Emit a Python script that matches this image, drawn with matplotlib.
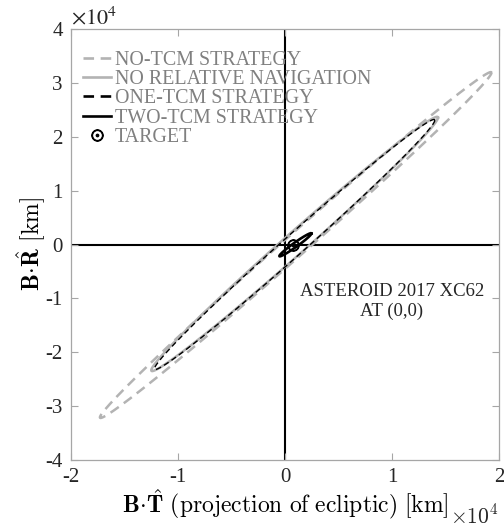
import numpy as np
import matplotlib
matplotlib.use('Agg')
import matplotlib.pyplot as plt
from matplotlib.ticker import FuncFormatter, MultipleLocator

plt.rcParams['font.family'] = 'serif'
plt.rcParams['font.serif'] = ['Liberation Serif', 'DejaVu Serif']
plt.rcParams['mathtext.fontset'] = 'cm'
plt.rcParams['axes.unicode_minus'] = False

# B-plane dispersion ellipses (km)
strategies = ['NO-TCM STRATEGY', 'NO RELATIVE NAVIGATION',
              'ONE-TCM STRATEGY', 'TWO-TCM STRATEGY']
center_t = [1000, 900, 900, 970]
center_r = [-100, 100, 0, -50]
sigma_t = [18300, 13400, 13100, 1500]
sigma_r = [32100, 23600, 23200, 2150]
corr = [0.9965, 0.9935, 0.9937, 0.973]
target_t = [750]
target_r = [0]

colors = ['#b3b3b3', '#b3b3b3', 'black', 'black']
styles = ['--', '-', '--', '-']
widths = [1.8, 1.8, 1.0, 1.9]

fig = plt.figure(figsize=(5.04, 5.31), dpi=100)
ax = fig.add_axes([71/504, 1 - 460/531, 428/504, 431/531])

# axis cross lines
ax.axhline(0, color='black', lw=1.5, zorder=1)
ax.axvline(0, color='black', lw=1.5, zorder=1)

t = np.linspace(0, 2*np.pi, 500)
for i in range(len(strategies)):
    x = center_t[i] + sigma_t[i]*np.cos(t)
    y = center_r[i] + sigma_r[i]*(corr[i]*np.cos(t) + np.sqrt(1 - corr[i]**2)*np.sin(t))
    line, = ax.plot(x, y, color=colors[i], lw=widths[i], ls=styles[i],
                    label=strategies[i], zorder=2 + i)
    if styles[i] == '--':
        line.set_dashes((4, 2.5))

ax.plot(target_t, target_r, ls='none', marker=r'$\odot$', markersize=8,
        color='black', label='TARGET', zorder=10)

ax.set_xlim(-20000, 20000)
ax.set_ylim(-40000, 40000)
ax.xaxis.set_major_locator(MultipleLocator(10000))
ax.yaxis.set_major_locator(MultipleLocator(10000))
fmt = FuncFormatter(lambda v, p: '%d' % round(v / 1e4))
ax.xaxis.set_major_formatter(fmt)
ax.yaxis.set_major_formatter(fmt)

for s in ax.spines.values():
    s.set_color('#a6a6a6')
    s.set_linewidth(0.9)
ax.tick_params(direction='in', length=5, width=0.8, color='#a6a6a6',
               labelcolor='#262626', labelsize=15, top=True, right=True)
ax.tick_params(axis='x', pad=6)
ax.tick_params(axis='y', pad=6)

ax.set_xlabel(r'$\mathbf{B}\!\cdot\!\hat{\mathbf{T}}\ \mathrm{(projection\ of\ ecliptic)\ [km]}$',
              fontsize=17, labelpad=0, math_fontfamily='cm')
ax.set_ylabel(r'$\mathbf{B}\!\cdot\!\hat{\mathbf{R}}\ \mathrm{[km]}$',
              fontsize=17, labelpad=-2, math_fontfamily='cm')

fig.text(71/504, 1 - 24/531, r'$\times10^4$', fontsize=16, color='#262626',
         ha='left', va='baseline', math_fontfamily='stix')
fig.text(450/504, 1 - 524/531, r'$\times10^4$', fontsize=15.5, color='#262626',
         ha='left', va='baseline', math_fontfamily='cm')

ax.text(10000, -10600, 'ASTEROID 2017 XC62\nAT (0,0)', ha='center', va='center',
        fontsize=13.5, color='#262626', linespacing=1.15)

leg = ax.legend(loc='upper left', bbox_to_anchor=(0.028, 0.950), frameon=False,
                fontsize=14.4, labelspacing=0.02, handlelength=1.4,
                handletextpad=0.2, borderaxespad=0.0, borderpad=0.0,
                labelcolor='#808080')
# legend swatches drawn a bit heavier, as in the original
for h in leg.get_lines()[:4]:
    h.set_linewidth(1.9)

fig.savefig('out.png', dpi=100)
